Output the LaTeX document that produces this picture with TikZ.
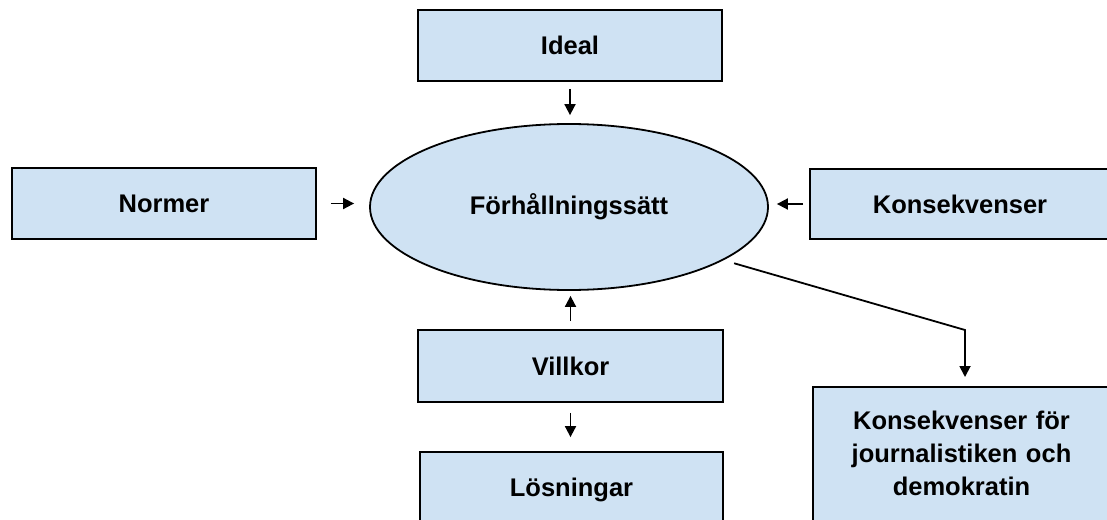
\documentclass[tikz,border=0pt]{standalone}
\usepackage{fontspec}
\setmainfont{Liberation Sans}
\usetikzlibrary{arrows.meta,shapes.geometric}
\definecolor{boxfill}{HTML}{CFE2F3}
\begin{document}
\begin{tikzpicture}[x=1pt,y=-1pt,
  box/.style={draw=black,fill=boxfill,line width=1.8pt,rectangle,inner sep=0pt,
    font=\fontsize{25.5}{33}\selectfont\bfseries,align=center},
  conn/.style={line width=1.8pt,-{Triangle[length=11pt,width=11pt]}}]
\useasboundingbox (0,0) rectangle (1107,519);
\clip (0,0) rectangle (1107,519);
\node[box,minimum width=304pt,minimum height=71pt] (ideal) at (570,45.5) {Ideal};
\node[box,minimum width=304pt,minimum height=71pt] (normer) at (164,203.5) {Normer};
\node[box,minimum width=300pt,minimum height=70pt,text width=294pt] (kons) at (960,204) {Konsekvenser};
\node[box,ellipse,minimum width=398pt,minimum height=166pt] (ell) at (569,207) {F\"orh\aa llningss\"att};
\node[box,minimum width=305pt,minimum height=72pt] (villkor) at (570.5,366) {Villkor};
\node[box,minimum width=303pt,minimum height=76pt] (los) at (571.5,490) {\raisebox{5pt}{L\"osningar}};
\node[box,anchor=north,text width=297pt,inner ysep=24pt,minimum height=150pt] (konsdem) at (961.5,386)
  {Konsekvenser f\"or\\journalistiken och\\demokratin\\[2pt]~};
\draw[conn,shorten <=7pt,shorten >=8pt] (ideal.south) -- (ideal.south |- ell.north);
\draw[conn,shorten <=14pt,shorten >=15pt] (normer.east) -- (normer.east -| ell.west);
\draw[conn,shorten <=6pt,shorten >=8pt] (kons.west) -- (kons.west -| ell.east);
\draw[conn,shorten <=8pt,shorten >=5pt] (villkor.north) -- (villkor.north |- ell.south);
\draw[conn,shorten <=10pt,shorten >=14pt] (villkor.south) -- (villkor.south |- los.north);
\coordinate (bend) at (965,330);
\draw[conn,shorten <=11pt,shorten >=9pt] (ell.-19) -- (bend) -- (bend |- konsdem.north);
\end{tikzpicture}
\end{document}
